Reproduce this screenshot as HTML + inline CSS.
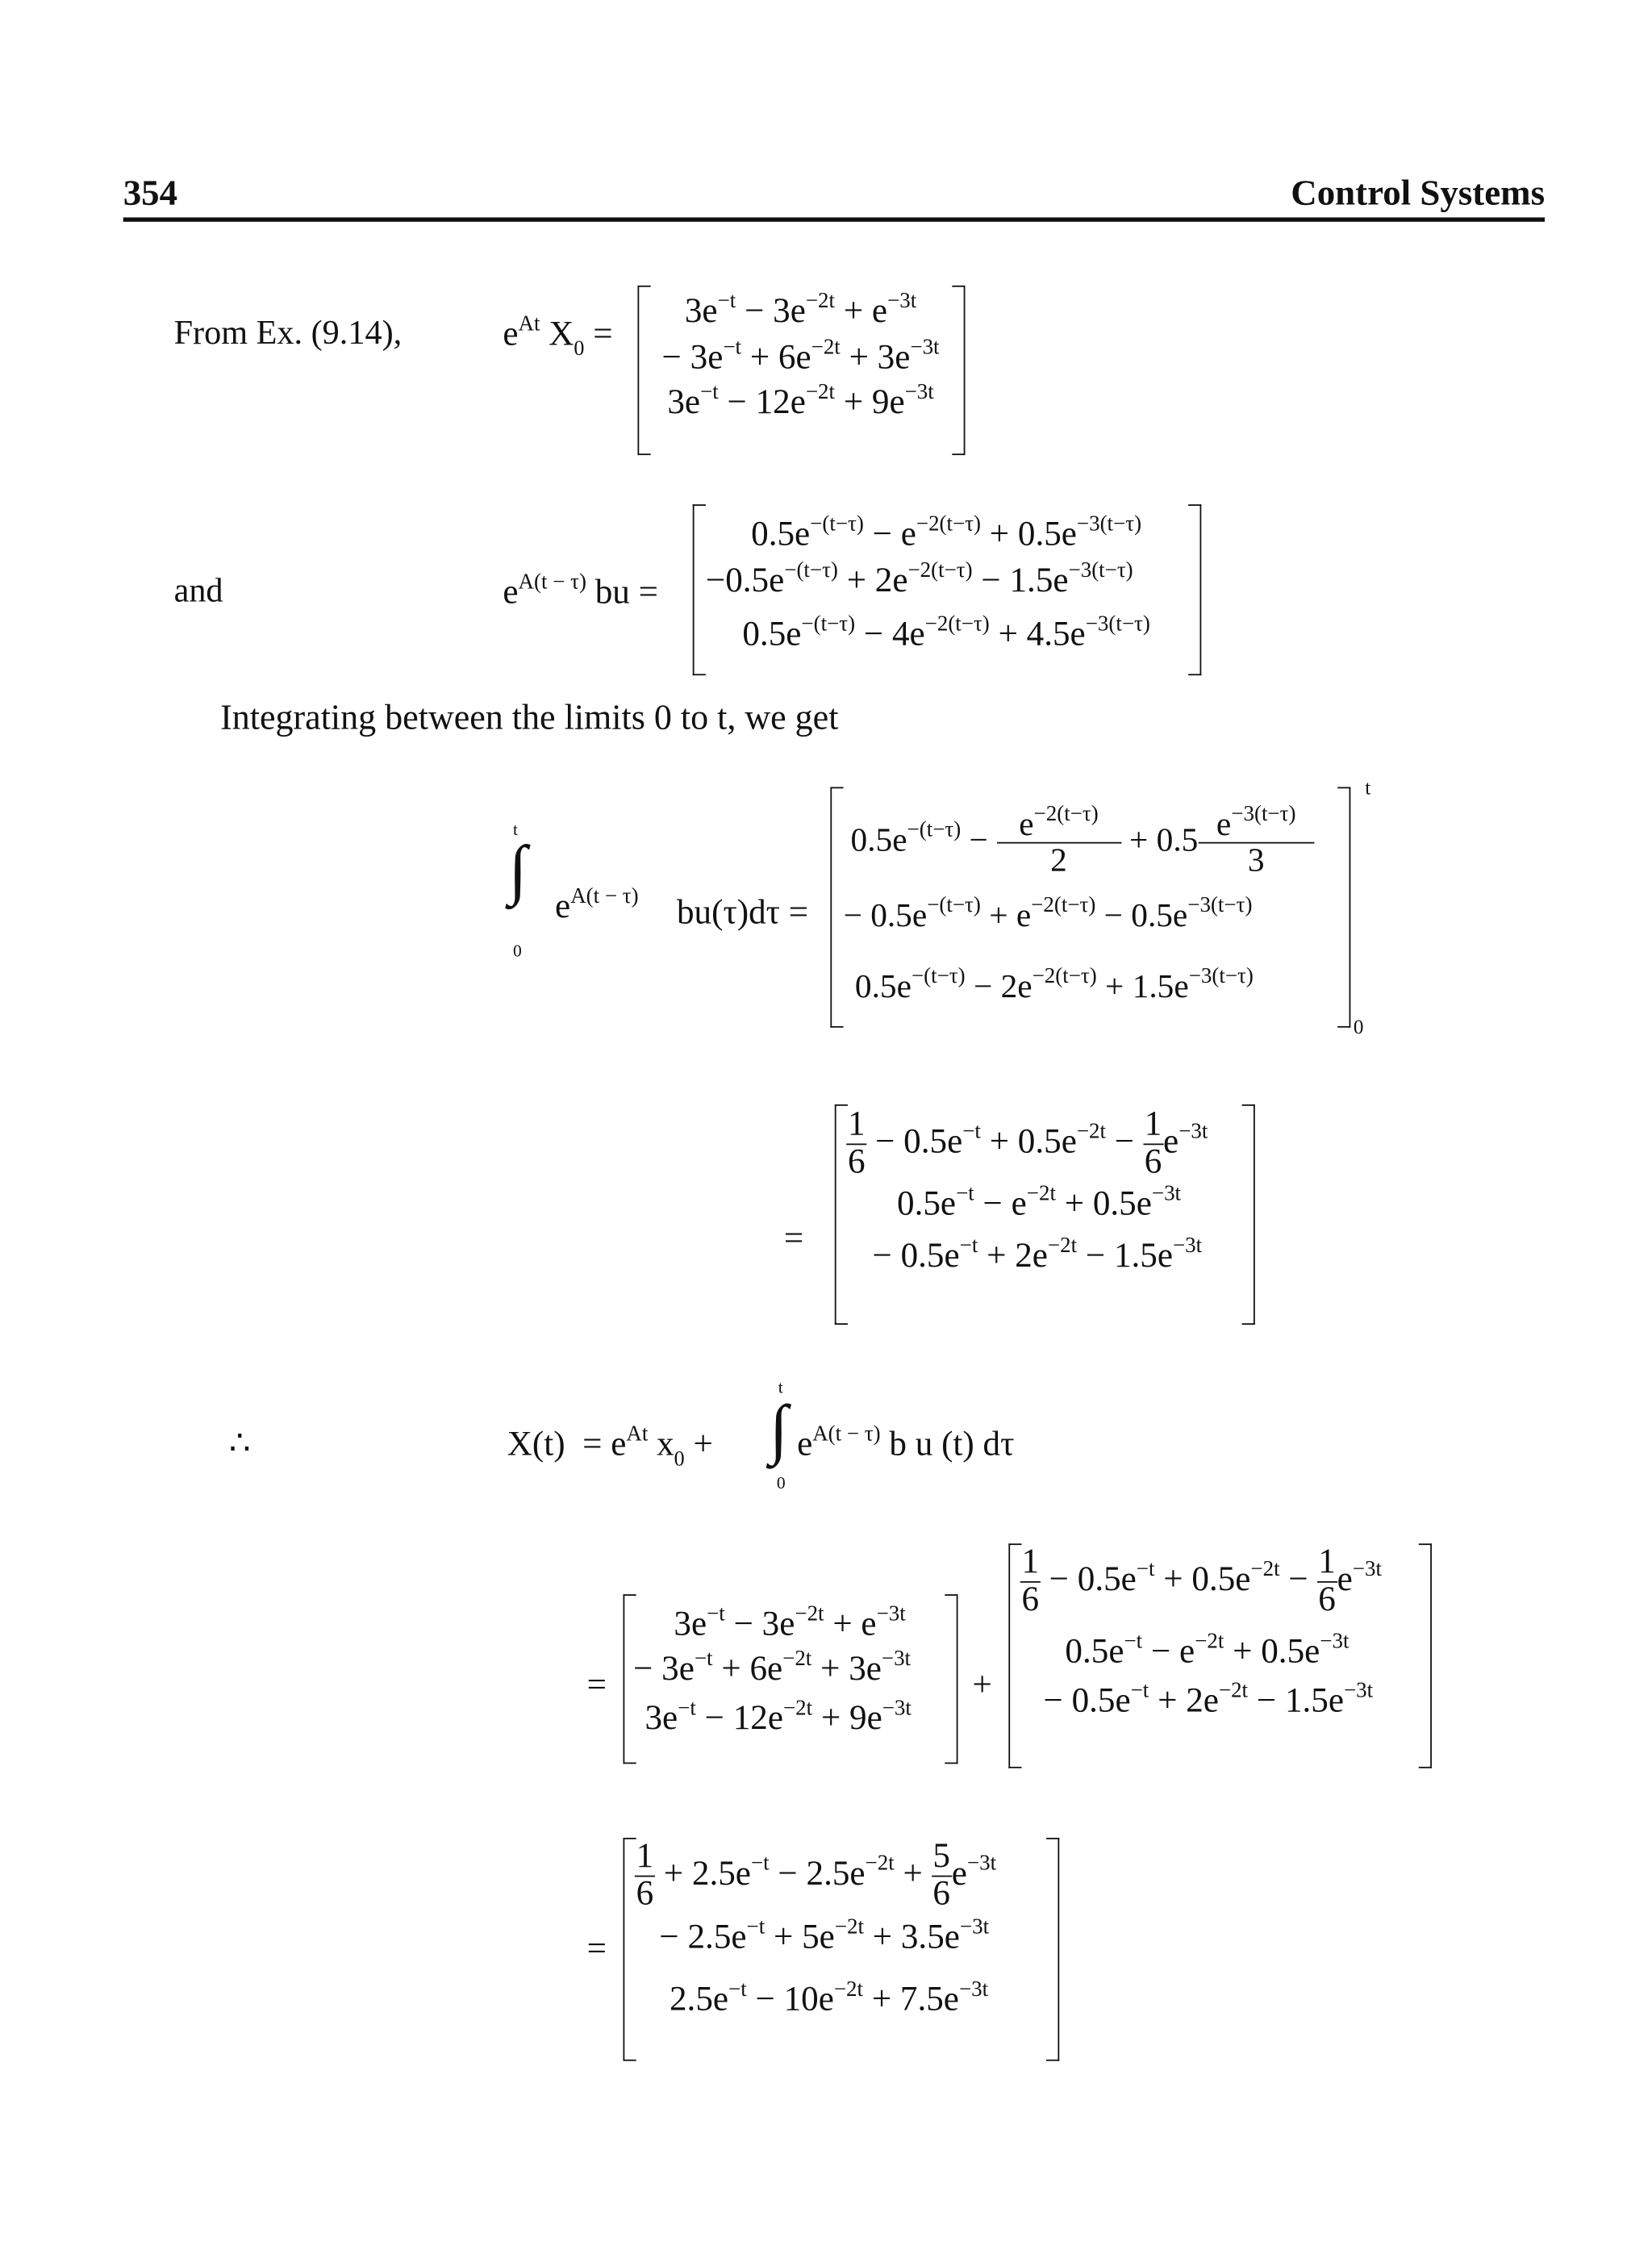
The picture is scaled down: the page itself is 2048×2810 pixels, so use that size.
<!DOCTYPE html>
<html><head><meta charset="utf-8">
<style>
html,body{margin:0;padding:0;background:#fff;}
#page{position:absolute;left:0;top:0;width:1140px;height:1564px;transform:scale(1.7965);transform-origin:0 0;}
.t{position:absolute;white-space:nowrap;font-family:"Liberation Serif",serif;font-size:23.5px;color:#111;line-height:1;}
.m{font-size:24px;}
sup{font-size:15px;vertical-align:0;position:relative;top:-10px;}
sub{font-size:14.5px;vertical-align:0;position:relative;top:7px;}
.bl,.br{position:absolute;border:1.7px solid #111;width:8px;}
.bl{border-right:none;}
.br{border-left:none;}
.fr{display:inline-block;vertical-align:middle;text-align:center;line-height:1.05;}
.fr .n{display:block;border-bottom:1.3px solid #111;padding:0 1px;}
.fr .d{display:block;}
.c{text-align:center;}
</style></head><body><div id="page">

<div class="t" style="left:85px;top:121px;font-weight:bold;font-size:25px;">354</div>
<div class="t" style="right:74px;top:121px;font-weight:bold;font-size:25px;">Control Systems</div>
<div style="position:absolute;left:85px;top:150px;width:981px;height:2.5px;background:#111;"></div>

<!-- From Ex -->
<div class="t" style="left:120px;top:219px;">From Ex. (9.14),</div>
<div class="t m" style="left:347px;top:219px;">e<sup>At</sup> X<sub>0</sub> =</div>
<div class="bl" style="left:440px;top:197px;height:115px;"></div>
<div class="br" style="left:657px;top:197px;height:115px;"></div>
<div class="t m c" style="left:440px;width:225px;top:203px;">3e<sup>−t</sup> − 3e<sup>−2t</sup> + e<sup>−3t</sup></div>
<div class="t m c" style="left:440px;width:225px;top:235px;">− 3e<sup>−t</sup> + 6e<sup>−2t</sup> + 3e<sup>−3t</sup></div>
<div class="t m c" style="left:440px;width:225px;top:266px;">3e<sup>−t</sup> − 12e<sup>−2t</sup> + 9e<sup>−3t</sup></div>

<!-- and -->
<div class="t" style="left:120px;top:397px;">and</div>
<div class="t m" style="left:347px;top:397px;">e<sup>A(t − τ)</sup> bu =</div>
<div class="bl" style="left:478px;top:348px;height:116px;"></div>
<div class="br" style="left:820px;top:348px;height:116px;"></div>
<div class="t m c" style="left:478px;width:350px;top:357px;">0.5e<sup>−(t−τ)</sup> − e<sup>−2(t−τ)</sup> + 0.5e<sup>−3(t−τ)</sup></div>
<div class="t m" style="left:487px;top:389px;">−0.5e<sup>−(t−τ)</sup> + 2e<sup>−2(t−τ)</sup> − 1.5e<sup>−3(t−τ)</sup></div>
<div class="t m c" style="left:478px;width:350px;top:426px;">0.5e<sup>−(t−τ)</sup> − 4e<sup>−2(t−τ)</sup> + 4.5e<sup>−3(t−τ)</sup></div>

<div class="t" style="left:152px;top:484px;font-size:24.5px;">Integrating between the limits 0 to t, we get</div>

<!-- integral -->
<div class="t" style="left:354px;top:566px;font-size:12px;">t</div>
<div class="t" style="left:351px;top:577px;font-size:46px;">∫</div>
<div class="t" style="left:354px;top:650px;font-size:12px;">0</div>
<div class="t m" style="left:383px;top:614px;">e<sup>A(t − τ)</sup></div>
<div class="t m" style="left:467px;top:618px;">bu(τ)dτ =</div>
<div class="bl" style="left:573px;top:543px;height:164px;"></div>
<div class="br" style="left:923px;top:543px;height:164px;"></div>
<div class="t" style="left:942px;top:538px;font-size:14px;">t</div>
<div class="t" style="left:934px;top:703px;font-size:14px;">0</div>
<div class="t m" style="left:587px;top:557px;font-size:23px;">0.5e<sup>−(t−τ)</sup> − <span class="fr" style="width:86px;"><span class="n">e<sup>−2(t−τ)</sup></span><span class="d">2</span></span> + 0.5<span class="fr" style="width:80px;"><span class="n">e<sup>−3(t−τ)</sup></span><span class="d">3</span></span></div>
<div class="t m" style="left:582px;top:620px;font-size:23px;">− 0.5e<sup>−(t−τ)</sup> + e<sup>−2(t−τ)</sup> − 0.5e<sup>−3(t−τ)</sup></div>
<div class="t m" style="left:590px;top:669px;font-size:23px;">0.5e<sup>−(t−τ)</sup> − 2e<sup>−2(t−τ)</sup> + 1.5e<sup>−3(t−τ)</sup></div>

<!-- = second -->
<div class="t m" style="left:541px;top:843px;">=</div>
<div class="bl" style="left:576px;top:762px;height:150px;"></div>
<div class="br" style="left:857px;top:762px;height:150px;"></div>
<div class="t m" style="left:584px;top:764px;"><span class="fr"><span class="n">1</span><span class="d">6</span></span> − 0.5e<sup>−t</sup> + 0.5e<sup>−2t</sup> − <span class="fr"><span class="n">1</span><span class="d">6</span></span>e<sup>−3t</sup></div>
<div class="t m" style="left:619px;top:819px;">0.5e<sup>−t</sup> − e<sup>−2t</sup> + 0.5e<sup>−3t</sup></div>
<div class="t m" style="left:602px;top:855px;">− 0.5e<sup>−t</sup> + 2e<sup>−2t</sup> − 1.5e<sup>−3t</sup></div>

<!-- therefore -->
<div class="t" style="left:158px;top:985px;">∴</div>
<div class="t m" style="left:350px;top:985px;">X(t) &nbsp;= e<sup>At</sup> x<sub>0</sub> +</div>
<div class="t" style="left:537px;top:951px;font-size:12px;">t</div>
<div class="t" style="left:531px;top:963px;font-size:46px;">∫</div>
<div class="t" style="left:536px;top:1017px;font-size:12px;">0</div>
<div class="t m" style="left:550px;top:985px;">e<sup>A(t − τ)</sup> b u (t) dτ</div>

<!-- sum -->
<div class="t m" style="left:405px;top:1151px;">=</div>
<div class="bl" style="left:430px;top:1100px;height:115px;"></div>
<div class="br" style="left:652px;top:1100px;height:115px;"></div>
<div class="t m c" style="left:430px;width:230px;top:1109px;">3e<sup>−t</sup> − 3e<sup>−2t</sup> + e<sup>−3t</sup></div>
<div class="t m" style="left:437px;top:1140px;">− 3e<sup>−t</sup> + 6e<sup>−2t</sup> + 3e<sup>−3t</sup></div>
<div class="t m" style="left:445px;top:1174px;">3e<sup>−t</sup> − 12e<sup>−2t</sup> + 9e<sup>−3t</sup></div>
<div class="t m" style="left:671px;top:1151px;">+</div>
<div class="bl" style="left:696px;top:1065px;height:153px;"></div>
<div class="br" style="left:979px;top:1065px;height:153px;"></div>
<div class="t m" style="left:704px;top:1066px;"><span class="fr"><span class="n">1</span><span class="d">6</span></span> − 0.5e<sup>−t</sup> + 0.5e<sup>−2t</sup> − <span class="fr"><span class="n">1</span><span class="d">6</span></span>e<sup>−3t</sup></div>
<div class="t m" style="left:735px;top:1128px;">0.5e<sup>−t</sup> − e<sup>−2t</sup> + 0.5e<sup>−3t</sup></div>
<div class="t m" style="left:720px;top:1162px;">− 0.5e<sup>−t</sup> + 2e<sup>−2t</sup> − 1.5e<sup>−3t</sup></div>

<!-- result -->
<div class="t m" style="left:405px;top:1333px;">=</div>
<div class="bl" style="left:430px;top:1268px;height:152px;"></div>
<div class="br" style="left:722px;top:1268px;height:152px;"></div>
<div class="t m" style="left:438px;top:1269px;"><span class="fr"><span class="n">1</span><span class="d">6</span></span> + 2.5e<sup>−t</sup> − 2.5e<sup>−2t</sup> + <span class="fr"><span class="n">5</span><span class="d">6</span></span>e<sup>−3t</sup></div>
<div class="t m" style="left:455px;top:1325px;">− 2.5e<sup>−t</sup> + 5e<sup>−2t</sup> + 3.5e<sup>−3t</sup></div>
<div class="t m" style="left:462px;top:1368px;">2.5e<sup>−t</sup> − 10e<sup>−2t</sup> + 7.5e<sup>−3t</sup></div>

</div></body></html>
